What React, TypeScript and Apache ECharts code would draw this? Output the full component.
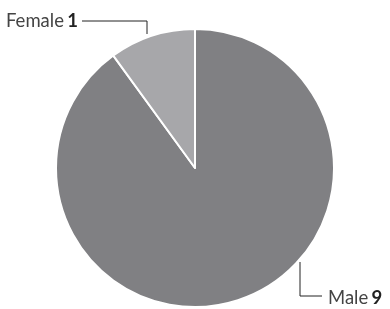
import React, { useEffect, useRef } from "react";
import * as echarts from "echarts";

const categories = ["Male", "Female"];
const values = [9, 1];
const colors = ["#808083", "#a7a7aa"];

export default function App() {
  const ref = useRef<HTMLDivElement>(null);
  useEffect(() => {
    if (!ref.current) return;
    const chart = echarts.init(ref.current, null, { renderer: "svg" });
    const layouts: any[] = [
      { y: 297, align: "left", pts: [[300, 262], [300, 296], [322, 296]] },
      { y: 20, align: "right", pts: [[147, 34], [147, 21], [82, 21]] },
    ];
    chart.setOption({
      animation: false,
      series: [
        {
          type: "pie",
          center: [195, 168],
          radius: [0, 139],
          startAngle: 90,
          clockwise: true,
          data: categories.map((c, i) => ({
            name: c,
            value: values[i],
            itemStyle: { color: colors[i] },
          })),
          itemStyle: { borderColor: "#ffffff", borderWidth: 2 },
          label: {
            show: true,
            formatter: (p: any) => `{n|${p.name}} {v|${p.value}}`,
            rich: {
              n: { fontFamily: "Lato", fontSize: 18.5, color: "#444" },
              v: { fontFamily: "Lato", fontSize: 18.5, fontWeight: "bold", color: "#222" },
            },
          },
          labelLine: { show: true, lineStyle: { color: "#222", width: 1 } },
          labelLayout: (params: any) => {
            const l = layouts[params.dataIndex];
            return {
              x: l.pts[2][0] + (l.align === "left" ? 6 : -4),
              y: l.y,
              align: l.align,
              verticalAlign: "middle",
              labelLinePoints: l.pts,
            };
          },
        },
      ],
    });
    return () => chart.dispose();
  }, []);
  return (
    <div
      ref={ref}
      style={{ position: "fixed", left: 0, top: 0, width: 390, height: 309 }}
    />
  );
}
